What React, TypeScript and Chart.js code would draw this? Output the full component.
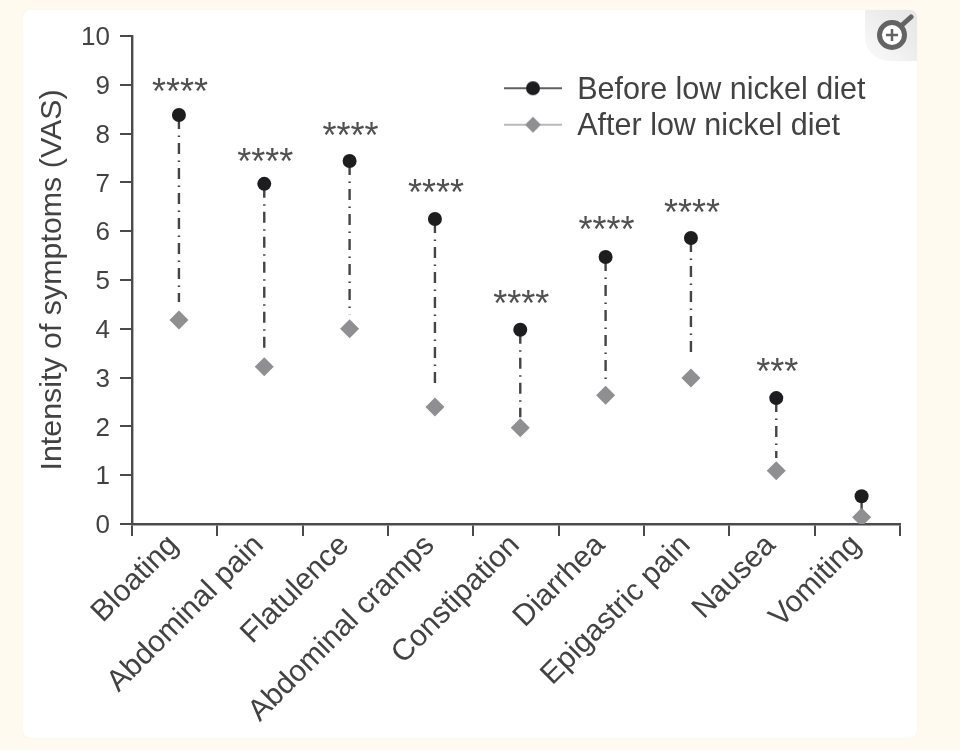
import React, { useEffect, useRef } from "react";
import { Chart, registerables } from "chart.js";

Chart.register(...registerables);

const categories = ["Bloating", "Abdominal pain", "Flatulence", "Abdominal cramps", "Constipation", "Diarrhea", "Epigastric pain", "Nausea", "Vomiting"];
const beforeValues = [8.38, 6.97, 7.44, 6.25, 3.98, 5.47, 5.86, 2.58, 0.57];
const afterValues = [4.18, 3.22, 4.0, 2.4, 1.97, 2.64, 2.99, 1.09, 0.14];
const connectorEnds = [4.55, 3.59, 4.3, 2.89, 2.19, 2.95, 3.46, 1.35, 0.14];
const stars = ["****", "****", "****", "****", "****", "****", "****", "***", ""];
const starLevels = [8.82, 7.38, 7.91, 6.73, 4.46, 5.98, 6.33, 3.08, 0];
const seriesNames = ["Before low nickel diet", "After low nickel diet"];
const yTitle = "Intensity of symptoms (VAS)";

const FONT = "'Liberation Sans', Arial, sans-serif";
const TEXT = "#424242";
const AXIS = "#4a4a4a";
const DARK = "#1d1d1f";
const GREY = "#8f8f91";

function legendSwatch(kind: "circle" | "diamond") {
  const c = document.createElement("canvas");
  c.width = 58;
  c.height = 22;
  const g = c.getContext("2d")!;
  const mid = 9;
  g.strokeStyle = kind === "circle" ? "#2b2b2b" : "#a2a2a4";
  g.lineWidth = 1.6;
  g.beginPath();
  g.moveTo(0, mid);
  g.lineTo(58, mid);
  g.stroke();
  g.fillStyle = kind === "circle" ? DARK : GREY;
  g.beginPath();
  if (kind === "circle") {
    g.arc(29, mid, 7, 0, Math.PI * 2);
  } else {
    g.moveTo(29, mid - 8);
    g.lineTo(37, mid);
    g.lineTo(29, mid + 8);
    g.lineTo(21, mid);
    g.closePath();
  }
  g.fill();
  return c;
}

const starPlugin = {
  id: "stars",
  afterDatasetsDraw(chart: any) {
    const { ctx, scales } = chart;
    ctx.save();
    ctx.font = `36px ${FONT}`;
    ctx.fillStyle = "#505050";
    ctx.textAlign = "center";
    ctx.textBaseline = "middle";
    stars.forEach((s, i) => {
      if (s) ctx.fillText(s, scales.xData.getPixelForValue(i) + 1, scales.y.getPixelForValue(starLevels[i]));
    });
    ctx.restore();
  },
};

const legendPlacement = {
  id: "legendPlacement",
  afterLayout(chart: any) {
    chart.legend.left = 498;
    chart.legend.top = 69;
    chart.legend.right = 900;
  },
};

export default function App() {
  const ref = useRef<HTMLCanvasElement>(null);
  useEffect(() => {
    const connectors = categories.map((_, i) => ({
      type: "line" as const,
      label: "connector",
      xAxisID: "xData",
      data: [
        { x: i, y: beforeValues[i] },
        { x: i, y: connectorEnds[i] },
      ],
      borderColor: "#444446",
      borderWidth: 2.4,
      borderDash: [11, 6.5, 1.5, 6],
      borderDashOffset: -3,
      pointRadius: 0,
      fill: false,
    }));
    const chart = new Chart(ref.current!, {
      type: "line",
      data: {
        labels: categories,
        datasets: [
          {
            label: seriesNames[0],
            xAxisID: "xData",
            data: beforeValues.map((y, x) => ({ x, y })),
            showLine: false,
            pointStyle: "circle",
            pointRadius: 7,
            pointBackgroundColor: DARK,
            pointBorderWidth: 0,
            borderColor: DARK,
          },
          {
            label: seriesNames[1],
            xAxisID: "xData",
            data: afterValues.map((y, x) => ({ x, y })),
            showLine: false,
            pointStyle: "rectRot",
            pointRadius: 9.5,
            pointBackgroundColor: GREY,
            pointBorderWidth: 0,
            borderColor: GREY,
          },
          ...connectors,
        ],
      },
      options: {
        responsive: false,
        animation: false,
        layout: { padding: { left: 0, top: 36, right: 60, bottom: 0 } },
        scales: {
          x: {
            type: "category",
            offset: true,
            grid: { display: true, offset: true, drawOnChartArea: false, drawTicks: true, tickLength: 12, color: AXIS, lineWidth: 2 },
            border: { display: true, color: AXIS, width: 2.4 },
            ticks: { font: { family: FONT, size: 30 }, color: TEXT, maxRotation: 45, minRotation: 45, padding: -8, labelOffset: -1, autoSkip: false },
            afterFit(s: any) {
              s.height = 226;
            },
          },
          xData: { type: "linear", display: false, min: -0.55, max: 8.45 },
          y: {
            min: 0,
            max: 10,
            grid: { display: true, drawOnChartArea: false, drawTicks: true, tickLength: 12, color: AXIS, lineWidth: 2 },
            border: { display: true, color: AXIS, width: 2.4 },
            ticks: { stepSize: 1, font: { family: FONT, size: 26 }, color: TEXT, padding: 10, labelOffset: 2 },
            title: { display: true, text: yTitle, font: { family: FONT, size: 30.4 }, color: TEXT, padding: { top: 34.5, bottom: 0 } },
            afterFit(s: any) {
              s.width = 132;
            },
          },
        },
        plugins: {
          tooltip: { enabled: false },
          legend: {
            display: true,
            position: "chartArea",
            align: "start",
            labels: {
              usePointStyle: true,
              pointStyleWidth: 58,
              padding: 6,
              font: { family: FONT, size: 30.5 },
              color: TEXT,
              generateLabels: () => [
                { text: seriesNames[0], pointStyle: legendSwatch("circle"), fontColor: TEXT, datasetIndex: 0, lineWidth: 0, strokeStyle: "transparent", fillStyle: "transparent" },
                { text: seriesNames[1], pointStyle: legendSwatch("diamond"), fontColor: TEXT, datasetIndex: 1, lineWidth: 0, strokeStyle: "transparent", fillStyle: "transparent" },
              ],
            },
          },
        },
      } as any,
      plugins: [starPlugin, legendPlacement],
    });
    return () => chart.destroy();
  }, []);

  return (
    <div style={{ position: "fixed", inset: 0, width: 960, height: 750, background: "#fefaef", overflow: "hidden" }}>
      <div
        style={{
          position: "absolute",
          left: 23,
          top: 10,
          width: 894,
          height: 728,
          background: "#ffffff",
          borderRadius: 7,
          boxShadow: "0 0 1px #e9e3d2",
          overflow: "hidden",
        }}
      >
        <div
          style={{
            position: "absolute",
            right: 0,
            top: 0,
            width: 52,
            height: 51,
            borderBottomLeftRadius: 24,
            background: "linear-gradient(45deg, #fbfbfb 0%, #ececec 60%, #e6e6e6 100%)",
          }}
        />
        <svg style={{ position: "absolute", left: 850, top: 4 }} width="44" height="44" viewBox="0 0 44 44">
          <circle cx="19" cy="21" r="12.5" fill="#ffffff" stroke="#636363" strokeWidth="5" />
          <path d="M28 12 L38 3" stroke="#636363" strokeWidth="5" strokeLinecap="round" />
          <path d="M13 21 H25 M19 15 V27" stroke="#636363" strokeWidth="2.5" />
        </svg>
      </div>
      <canvas ref={ref} width={960} height={750} style={{ position: "absolute", left: 0, top: 0, display: "block" }} />
    </div>
  );
}
